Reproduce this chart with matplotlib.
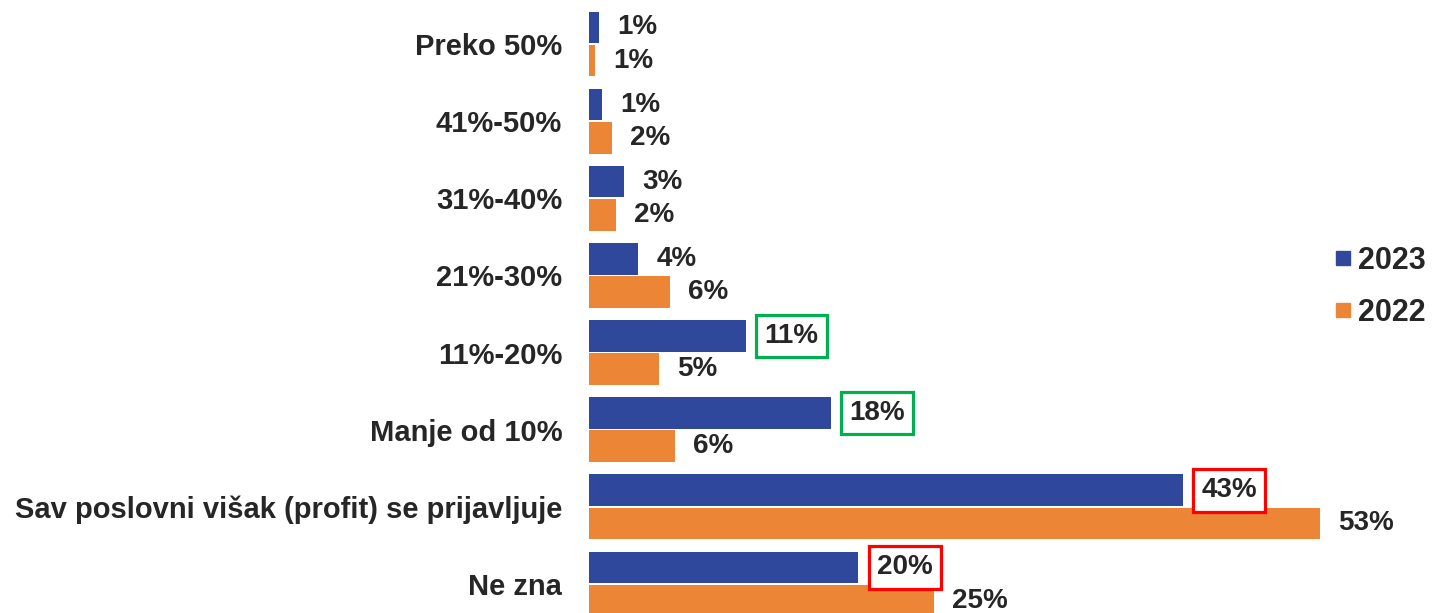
import matplotlib.pyplot as plt
from matplotlib.lines import Line2D

categories = ["Preko 50%", "41%-50%", "31%-40%", "21%-30%", "11%-20%",
              "Manje od 10%", "Sav poslovni višak (profit) se prijavljuje", "Ne zna"]
# bar lengths (labels are the rounded figures)
vals_2023 = [0.72, 0.92, 2.54, 3.55, 11.33, 17.49, 43.0, 19.5]
vals_2022 = [0.41, 1.64, 1.93, 5.87, 5.07, 6.19, 52.95, 24.98]
labels_2023 = ["1%", "1%", "3%", "4%", "11%", "18%", "43%", "20%"]
labels_2022 = ["1%", "2%", "2%", "6%", "5%", "6%", "53%", "25%"]
# highlight boxes on 2023 labels
box_2023 = [None, None, None, None, "#00B050", "#00B050", "#FF0000", "#FF0000"]

blue = "#30489C"
orange = "#ED8537"
txt = "#262626"

plt.rcParams['font.family'] = ['Liberation Sans', 'DejaVu Sans']

fig = plt.figure(figsize=(14.32, 6.13), dpi=100)
ax = fig.add_axes([589.3 / 1432, 0, (1330 - 589.3) / 1432, 1])

h = 0.41
off = 0.215
ys = list(range(len(categories)))
ax.barh([y - off for y in ys], vals_2023, height=h, color=blue, label="2023")
ax.barh([y + off for y in ys], vals_2022, height=h, color=orange, label="2022")

for y, v, lab, bc in zip(ys, vals_2023, labels_2023, box_2023):
    if bc:
        ax.annotate(lab, (v, y - off), xytext=(13.5, 0), textcoords="offset points",
                    ha="left", va="center", fontsize=20, fontweight="bold", color=txt,
                    bbox=dict(boxstyle="square,pad=0.3", fc="white", ec=bc, lw=2.3),
                    annotation_clip=False)
    else:
        ax.annotate(lab, (v, y - off), xytext=(13, 0), textcoords="offset points",
                    ha="left", va="center", fontsize=20, fontweight="bold", color=txt,
                    annotation_clip=False)
for y, v, lab in zip(ys, vals_2022, labels_2022):
    ax.annotate(lab, (v, y + off), xytext=(13, 0), textcoords="offset points",
                ha="left", va="center", fontsize=20, fontweight="bold", color=txt,
                annotation_clip=False)

ax.set_xlim(0, (1330 - 589.3) / 13.8)
ax.set_ylim(7.376, -0.57)
ax.set_yticks(ys)
ax.set_yticklabels(categories, fontsize=21, fontweight="bold", color=txt)
ax.tick_params(axis="y", length=0, pad=19.5)
ax.set_xticks([])
for s in ax.spines.values():
    s.set_visible(False)

handles = [Line2D([], [], marker="s", ls="", color=blue, markersize=9.5),
           Line2D([], [], marker="s", ls="", color=orange, markersize=9.5)]
fig.legend(handles, ["2023", "2022"], loc="center left", bbox_to_anchor=(1334 / 1432, 0.5318),
           frameon=False, prop=dict(size=22, weight="bold"), labelcolor=txt, borderpad=0,
           borderaxespad=0, handletextpad=0.19, labelspacing=0.73, handlelength=0.6)

fig.savefig("out.png", dpi=100)
